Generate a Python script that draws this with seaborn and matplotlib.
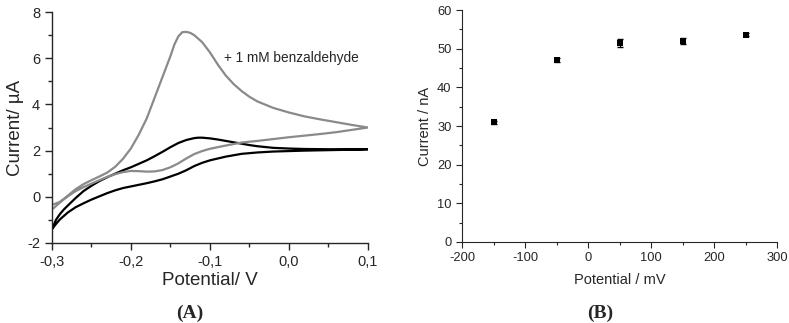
import numpy as np
import pandas as pd
import matplotlib
matplotlib.use("Agg")
import matplotlib.pyplot as plt
from matplotlib.ticker import FuncFormatter, MultipleLocator
import seaborn as sns

# Panel A: cyclic voltammograms (closed loops)
cv_black_E = [-0.300, -0.295, -0.290, -0.285, -0.280, -0.270, -0.260, -0.250, -0.240, -0.230, -0.220,
              -0.210, -0.200, -0.190, -0.180, -0.170, -0.160, -0.150, -0.140, -0.130, -0.120, -0.115,
              -0.110, -0.100, -0.090, -0.080, -0.070, -0.060, -0.050, -0.040, -0.020, 0.000, 0.020,
              0.050, 0.080, 0.100,
              0.080, 0.050, 0.020, 0.000, -0.020, -0.040, -0.060, -0.080, -0.100, -0.110, -0.120,
              -0.130, -0.140, -0.150, -0.160, -0.170, -0.180, -0.190, -0.200, -0.210, -0.220, -0.230,
              -0.240, -0.250, -0.260, -0.270, -0.280, -0.290, -0.295, -0.300]
cv_black_I = [-1.40, -1.00, -0.75, -0.55, -0.38, -0.05, 0.25, 0.48, 0.68, 0.85, 1.00,
              1.15, 1.28, 1.43, 1.58, 1.76, 1.95, 2.15, 2.33, 2.46, 2.54, 2.56,
              2.56, 2.53, 2.48, 2.42, 2.36, 2.30, 2.24, 2.19, 2.12, 2.09, 2.07,
              2.06, 2.05, 2.06,
              2.04, 2.02, 2.00, 1.98, 1.96, 1.92, 1.86, 1.74, 1.58, 1.47, 1.33,
              1.15, 1.00, 0.88, 0.76, 0.67, 0.59, 0.52, 0.45, 0.38, 0.28, 0.16,
              0.02, -0.12, -0.28, -0.45, -0.68, -0.98, -1.18, -1.40]

cv_gray_E = [-0.300, -0.290, -0.280, -0.270, -0.260, -0.250, -0.240, -0.230, -0.220, -0.210,
             -0.200, -0.190, -0.180, -0.170, -0.160, -0.150, -0.145, -0.140, -0.135, -0.130,
             -0.125, -0.120, -0.110, -0.100, -0.090, -0.080, -0.070, -0.060, -0.050, -0.040,
             -0.020, 0.000, 0.020, 0.040, 0.060, 0.080, 0.100,
             0.080, 0.060, 0.040, 0.020, 0.000, -0.020, -0.040, -0.060, -0.080, -0.100,
             -0.110, -0.120, -0.130, -0.140, -0.150, -0.160, -0.170, -0.180, -0.190, -0.200,
             -0.210, -0.220, -0.230, -0.240, -0.250, -0.260, -0.270, -0.280, -0.290, -0.300]
cv_gray_I = [-0.55, -0.25, 0.05, 0.33, 0.55, 0.72, 0.88, 1.05, 1.30, 1.65,
             2.10, 2.70, 3.40, 4.30, 5.20, 6.10, 6.60, 6.95, 7.13, 7.14,
             7.10, 7.00, 6.70, 6.25, 5.72, 5.25, 4.88, 4.58, 4.33, 4.13,
             3.85, 3.65, 3.48, 3.35, 3.23, 3.11, 3.00,
             2.90, 2.80, 2.72, 2.65, 2.58, 2.50, 2.42, 2.35, 2.22, 2.08,
             1.98, 1.85, 1.66, 1.45, 1.28, 1.16, 1.10, 1.09, 1.11, 1.12,
             1.07, 0.98, 0.86, 0.72, 0.57, 0.42, 0.25, 0.02, -0.22, -0.35]

# Panel B: steady-state current vs potential
potential_mV = [-150, -50, 50, 150, 250]
current_nA = [31.0, 47.1, 51.4, 52.0, 53.6]
current_err = [0.4, 0.6, 1.0, 0.7, 0.4]

sns.set_style("ticks")
plt.rcParams["font.family"] = ["Liberation Sans", "DejaVu Sans"]

fig = plt.figure(figsize=(7.89, 3.23), dpi=100)
ax_a = fig.add_axes([0.0659, 0.2477, 0.4005, 0.715])
ax_b = fig.add_axes([0.5856, 0.2508, 0.3992, 0.718])

# ---- panel A
black_df = pd.DataFrame({"E": cv_black_E, "I": cv_black_I})
gray_df = pd.DataFrame({"E": cv_gray_E, "I": cv_gray_I})
sns.lineplot(data=black_df, x="E", y="I", sort=False, estimator=None, color="black", lw=1.6, ax=ax_a)
sns.lineplot(data=gray_df, x="E", y="I", sort=False, estimator=None, color="#8a8a8a", lw=1.6, ax=ax_a)
ax_a.set_xlim(-0.3, 0.1)
ax_a.set_ylim(-2, 8)
ax_a.xaxis.set_major_locator(MultipleLocator(0.1))
ax_a.xaxis.set_minor_locator(MultipleLocator(0.05))
ax_a.yaxis.set_major_locator(MultipleLocator(2))
ax_a.yaxis.set_minor_locator(MultipleLocator(1))
ax_a.xaxis.set_major_formatter(FuncFormatter(lambda v, p: f"{v:.1f}".replace(".", ",")))
ax_a.yaxis.set_major_formatter(FuncFormatter(lambda v, p: f"{v:.0f}"))
ax_a.tick_params(which="major", length=5, width=1, labelsize=10.5, direction="out")
ax_a.tick_params(which="minor", length=3, width=1, direction="out")
ax_a.set_xlabel("Potential/ V", fontsize=13.5, labelpad=2)
ax_a.set_ylabel("Current/ µA", fontsize=13.5, labelpad=2)
ax_a.text(-0.082, 6.0, "+ 1 mM benzaldehyde", fontsize=9.8, va="center", ha="left")
for s in ax_a.spines.values():
    s.set_linewidth(1.0)
sns.despine(ax=ax_a)

# ---- panel B
b_df = pd.DataFrame({"E": potential_mV, "I": current_nA})
ax_b.errorbar(potential_mV, current_nA, yerr=current_err, fmt="none", ecolor="black", elinewidth=0.8, capsize=2)
sns.scatterplot(data=b_df, x="E", y="I", marker="s", s=22, color="black", linewidth=0, ax=ax_b, zorder=3)
ax_b.set_xlim(-200, 300)
ax_b.set_ylim(0, 60)
ax_b.xaxis.set_major_locator(MultipleLocator(100))
ax_b.xaxis.set_minor_locator(MultipleLocator(50))
ax_b.yaxis.set_major_locator(MultipleLocator(10))
ax_b.yaxis.set_minor_locator(MultipleLocator(5))
ax_b.xaxis.set_major_formatter(FuncFormatter(lambda v, p: f"{v:.0f}"))
ax_b.yaxis.set_major_formatter(FuncFormatter(lambda v, p: f"{v:.0f}"))
ax_b.tick_params(which="major", length=4, width=0.8, labelsize=9.3, direction="out")
ax_b.tick_params(which="minor", length=2.5, width=0.8, direction="out")
ax_b.set_xlabel("Potential / mV", fontsize=10.5, labelpad=6)
ax_b.set_ylabel("Current / nA", fontsize=10.5, labelpad=4)
for s in ax_b.spines.values():
    s.set_linewidth(0.8)
sns.despine(ax=ax_b)

# panel letters
fig.text(190 / 789, 1 - 313 / 323, "(A)", fontsize=14, fontweight="bold", family="Liberation Serif",
         ha="center", va="center")
fig.text(600 / 789, 1 - 313 / 323, "(B)", fontsize=14, fontweight="bold", family="Liberation Serif",
         ha="center", va="center")

fig.savefig("out.png", dpi=100)
